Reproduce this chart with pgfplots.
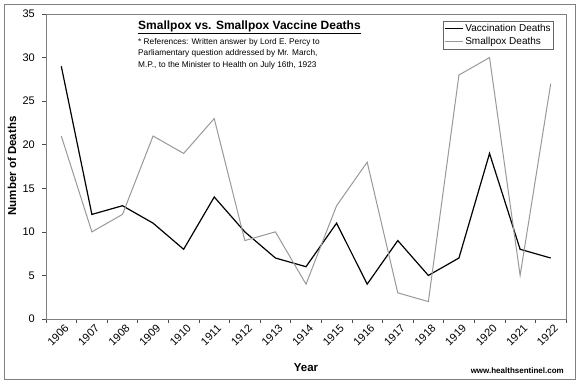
\documentclass[border=0pt]{standalone}
\usepackage{pgfplots}
\pgfplotsset{compat=1.18}
\usepackage{fontspec}
\setmainfont{Liberation Sans}
\definecolor{smgray}{HTML}{999999}
\definecolor{framegray}{HTML}{808080}
\begin{document}
\begin{tikzpicture}
\useasboundingbox (0pt,0pt) rectangle (580pt,384pt);
\fill[white] (0pt,0pt) rectangle (580pt,384pt);
\draw[framegray, line width=0.8pt] (4pt,5pt) rectangle (575pt,380pt);
\begin{axis}[
  at={(46pt,65pt)}, anchor=south west,
  scale only axis, width=520pt, height=305pt,
  xmin=0, xmax=17, ymin=0, ymax=35,
  xtick={0,...,17},
  xticklabels={1906,1907,1908,1909,1910,1911,1912,1913,1914,1915,1916,1917,1918,1919,1920,1921,1922,{}},
  ytick={0,5,...,35},
  tick align=outside, major tick length=4pt,
  xtick pos=bottom, ytick pos=left,
  tick style={black!70, line width=0.6pt},
  axis line style={framegray, line width=0.9pt},
  tick label style={font=\fontsize{11}{13}\selectfont},
  xticklabel style={rotate=45, anchor=center, inner sep=0pt, yshift=-17pt},
  yticklabel style={inner sep=2pt, xshift=-5pt},
  /pgf/number format/assume math mode=true,
  legend style={at={(0.977,0.977)}, anchor=north east, draw=black!60, line width=0.6pt,
    font=\fontsize{10}{12}\selectfont, inner sep=1pt, row sep=0pt,
    legend cell align=left},
  legend image code/.code={\draw[#1] (0pt,0pt) -- (18pt,0pt);},
]
\addplot[black, line width=1.2pt] coordinates {
 (0.5,29) (1.5,12) (2.5,13) (3.5,11) (4.5,8) (5.5,14) (6.5,10) (7.5,7) (8.5,6)
 (9.5,11) (10.5,4) (11.5,9) (12.5,5) (13.5,7) (14.5,19) (15.5,8) (16.5,7)};
\addlegendentry{Vaccination Deaths}
\addplot[smgray, line width=1pt] coordinates {
 (0.5,21) (1.5,10) (2.5,12) (3.5,21) (4.5,19) (5.5,23) (6.5,9) (7.5,10) (8.5,4)
 (9.5,13) (10.5,18) (11.5,3) (12.5,2) (13.5,28) (14.5,30) (15.5,5) (16.5,27)};
\addlegendentry{Smallpox Deaths}
\end{axis}
\node[anchor=west, font=\bfseries\fontsize{12}{14}\selectfont, inner sep=0pt] at (138pt,357pt) {\underline{Smallpox vs. Smallpox Vaccine Deaths}};
\node[anchor=north west, align=left, font=\fontsize{8.3}{11.5}\selectfont, inner sep=0pt] at (138pt,346pt) {* References: Written answer by Lord E. Percy to\\Parliamentary question addressed by Mr. March,\\M.P., to the Minister to Health on July 16th, 1923};
\node[rotate=90, font=\bfseries\fontsize{11.5}{13}\selectfont] at (12pt,218pt) {Number of Deaths};
\node[font=\bfseries\fontsize{11.5}{13}\selectfont] at (306pt,16pt) {Year};
\node[anchor=east, font=\bfseries\fontsize{8}{10}\selectfont, inner sep=0pt] at (564pt,13pt) {www.healthsentinel.com};
\end{tikzpicture}
\end{document}
